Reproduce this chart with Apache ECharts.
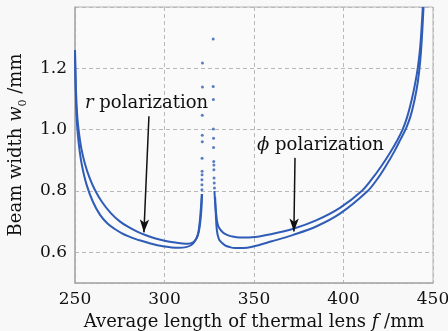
<!DOCTYPE html>
<html><head><meta charset="utf-8">
<script src="https://cdn.jsdelivr.net/npm/echarts@6/dist/echarts.min.js"></script>
<style>html,body{margin:0;padding:0;background:#f8f8f8}#c{width:448px;height:331px}</style>
</head><body><div id="c"></div>
<script>
// ---- data ----
const xTicks = [250, 300, 350, 400, 450];
const yTicks = [0.6, 0.8, 1.0, 1.2];

const leftOuterX = [250.0, 250.6, 251.3, 252.2, 253.5, 255.5, 258, 261, 265, 270, 275, 280, 285, 290, 295, 300, 305, 310, 313, 316, 318, 319.2, 320.0, 320.6, 321.0];
const leftOuterY = [1.26, 1.12, 1.04, 0.99, 0.94, 0.89, 0.845, 0.805, 0.765, 0.728, 0.701, 0.682, 0.667, 0.655, 0.645, 0.638, 0.633, 0.629, 0.628, 0.633, 0.647, 0.668, 0.70, 0.74, 0.79];

const leftInnerX = [250.0, 250.4, 250.9, 251.5, 252.5, 254, 256.5, 260, 264, 268, 272, 276, 280, 284, 288, 292, 296, 300, 304, 308, 312, 315, 317, 318.7, 319.7, 320.4, 320.8];
const leftInnerY = [1.25, 1.12, 1.04, 0.99, 0.935, 0.88, 0.82, 0.765, 0.722, 0.695, 0.677, 0.663, 0.652, 0.643, 0.636, 0.629, 0.623, 0.619, 0.616, 0.615, 0.617, 0.624, 0.637, 0.66, 0.70, 0.75, 0.79];

const rightUpperX = [327.9, 328.3, 328.8, 329.4, 330.3, 332.8, 335, 337.5, 342, 348.7, 360, 372, 385, 398, 410.2, 416, 421, 426, 430, 433, 435.5, 438, 440, 441.7, 443, 444.3];
const rightUpperY = [0.80, 0.76, 0.73, 0.70, 0.682, 0.664, 0.657, 0.652, 0.648, 0.649, 0.660, 0.677, 0.705, 0.745, 0.80, 0.84, 0.88, 0.925, 0.965, 1.0, 1.04, 1.095, 1.15, 1.21, 1.28, 1.4];

const rightLowerX = [328.3, 328.7, 329.2, 330.0, 331.0, 333.8, 336.5, 339.4, 344, 349, 360, 372, 385, 398, 413.5, 419, 423.5, 428.5, 432, 435, 437.5, 439.8, 441.5, 442.8, 443.8, 444.7];
const rightLowerY = [0.78, 0.72, 0.675, 0.65, 0.637, 0.623, 0.617, 0.614, 0.614, 0.618, 0.636, 0.657, 0.685, 0.726, 0.80, 0.84, 0.88, 0.93, 0.97, 1.005, 1.045, 1.1, 1.155, 1.22, 1.3, 1.4];

const spikeLeftX = [321.2, 321.2, 321.1, 321.1, 321.1, 321.0, 321.0, 321.0, 320.9, 320.9, 320.9];
const spikeLeftY = [1.217, 1.139, 1.047, 0.982, 0.961, 0.907, 0.864, 0.853, 0.837, 0.820, 0.804];
const spikeRightX = [327.2, 327.2, 327.3, 327.3, 327.4, 327.4, 327.5, 327.6, 327.6, 327.7, 327.8, 327.9];
const spikeRightY = [1.296, 1.141, 1.098, 1.002, 0.972, 0.942, 0.896, 0.885, 0.869, 0.842, 0.826, 0.81];

// annotations: [textX, textY] and arrow [fromX, fromY, toX, toY] in data units
const rLabelPos = [255.6, 1.086];
const rArrow = [291.3, 1.044, 288.5, 0.665];
const phiLabelPos = [351.7, 0.95];
const phiArrow = [372.9, 0.908, 372.3, 0.668];

// ---- chart ----
const BLUE = '#2f5cb6';
const FONT = 'DejaVu Serif';
const pairs = (xs, ys) => xs.map((x, i) => [x, ys[i]]);
const chart = echarts.init(document.getElementById('c'), null, {renderer: 'canvas'});

const lineSeries = (xs, ys) => ({
  type: 'line', data: pairs(xs, ys), showSymbol: false, smooth: 0.35,
  lineStyle: {color: BLUE, width: 2}, silent: true, z: 3
});
const dotSeries = (xs, ys) => ({
  type: 'scatter', data: pairs(xs, ys), symbolSize: 3,
  itemStyle: {color: BLUE}, silent: true, z: 3
});

const arrowLine = (a) => [
  {coord: [a[0], a[1]], symbol: 'none'},
  {coord: [a[2], a[3]], symbol: 'arrow', symbolSize: [7, 13]}
];

chart.setOption({
  animation: false,
  backgroundColor: '#f8f8f8',
  grid: {left: 75, right: 15, top: 7, bottom: 48, show: true, backgroundColor: '#fafafa',
         borderColor: '#b4b4b4', borderWidth: 1, outerBoundsMode: 'none'},
  xAxis: {
    type: 'value', min: xTicks[0], max: xTicks[xTicks.length - 1], interval: 50,
    axisLine: {show: true, lineStyle: {color: '#aaaaaa', width: 1.5}},
    axisTick: {show: false},
    splitLine: {show: true, lineStyle: {color: '#b8b8b8', type: [4, 3], width: 1}},
    axisLabel: {color: '#111', fontFamily: FONT, fontSize: 17, margin: 8},
    name: '{a|Average length of thermal lens }{i|f}{a| /mm}',
    nameLocation: 'middle', nameGap: 27,
    nameTextStyle: {color: '#111', fontFamily: FONT, fontSize: 18,
      rich: {a: {fontFamily: FONT, fontSize: 18, color: '#111'},
             i: {fontFamily: FONT, fontSize: 18, fontStyle: 'italic', color: '#111'}}}
  },
  yAxis: {
    type: 'value', min: 0.5, max: 1.4, splitNumber: 5,
    axisLine: {show: true, lineStyle: {color: '#aaaaaa', width: 1.5}},
    axisTick: {show: false},
    splitLine: {show: true, lineStyle: {color: '#b8b8b8', type: [4, 3], width: 1}},
    axisLabel: {color: '#111', fontFamily: FONT, fontSize: 17, margin: 8,
      showMinLabel: false, showMaxLabel: false,
      formatter: v => yTicks.some(t => Math.abs(t - v) < 1e-6) ? v.toFixed(1) : ''},
    name: '{a|Beam width }{i|w}{s|0}{a| /mm}',
    nameLocation: 'middle', nameGap: 46, nameRotate: 90,
    nameTextStyle: {color: '#111', fontFamily: FONT, fontSize: 18,
      rich: {a: {fontFamily: FONT, fontSize: 18, color: '#111', lineHeight: 26, verticalAlign: 'middle'},
             i: {fontFamily: FONT, fontSize: 18, fontStyle: 'italic', color: '#111', lineHeight: 26, verticalAlign: 'middle'},
             s: {fontFamily: FONT, fontSize: 11, color: '#111', lineHeight: 12, verticalAlign: 'bottom'}}}
  },
  series: [
    lineSeries(leftOuterX, leftOuterY),
    lineSeries(leftInnerX, leftInnerY),
    lineSeries(rightUpperX, rightUpperY),
    lineSeries(rightLowerX, rightLowerY),
    dotSeries(spikeLeftX, spikeLeftY),
    dotSeries(spikeRightX, spikeRightY),
    {
      type: 'line', data: [], silent: true, z: 5,
      markLine: {
        silent: true, animation: false,
        label: {show: false},
        lineStyle: {color: '#111', width: 1.5, type: 'solid'},
        emphasis: {disabled: true},
        data: [arrowLine(rArrow), arrowLine(phiArrow)]
      }
    }
  ]
});

const rp = chart.convertToPixel({gridIndex: 0}, rLabelPos);
const pp = chart.convertToPixel({gridIndex: 0}, phiLabelPos);
const txtRich = {
  a: {fontFamily: FONT, fontSize: 18, fill: '#111', color: '#111'},
  i: {fontFamily: FONT, fontSize: 18, fontStyle: 'italic', fill: '#111', color: '#111'}
};
chart.setOption({
  graphic: [
    {type: 'text', x: rp[0], y: rp[1], z: 10,
     style: {text: '{i|r} {a|polarization}', rich: txtRich, verticalAlign: 'middle', align: 'left',
             fontFamily: FONT, fontSize: 18, fill: '#111'}},
    {type: 'text', x: pp[0], y: pp[1], z: 10,
     style: {text: '{i|ϕ} {a|polarization}', rich: txtRich, verticalAlign: 'middle', align: 'left',
             fontFamily: FONT, fontSize: 18, fill: '#111'}}
  ]
});
</script></body></html>
